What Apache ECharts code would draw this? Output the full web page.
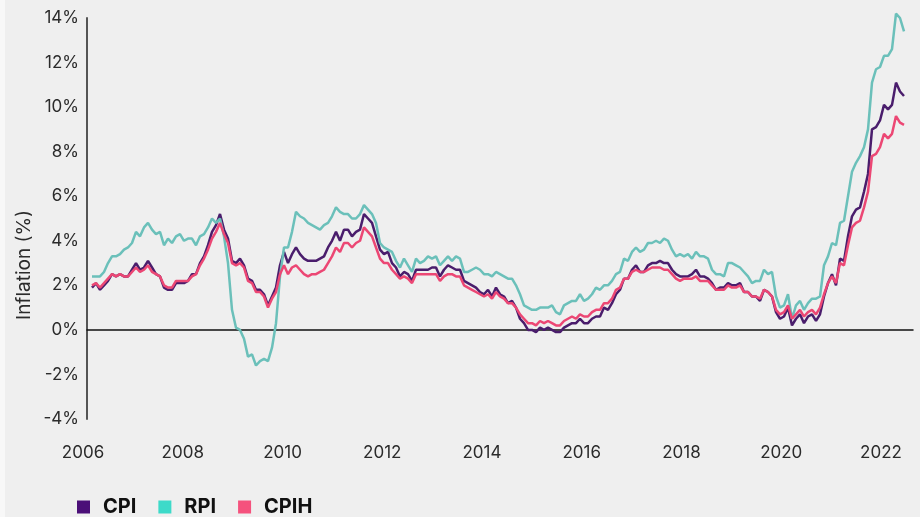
<!DOCTYPE html>
<html>
<head>
<meta charset="utf-8">
<script src="https://cdn.jsdelivr.net/npm/echarts@6/dist/echarts.min.js"></script>
<style>
  html, body { margin: 0; padding: 0; background: #f8f8f8; }
  #chart { width: 920px; height: 517px; }
</style>
</head>
<body>
<div id="chart"></div>
<script>
// monthly annual rates, Jan 2006 - Dec 2022
const cpi = [
  1.9, 2.1, 1.8, 2.0, 2.2, 2.5, 2.4, 2.5, 2.4, 2.4, 2.7, 3.0,
  2.7, 2.8, 3.1, 2.8, 2.5, 2.4, 1.9, 1.8, 1.8, 2.1, 2.1, 2.1,
  2.2, 2.5, 2.5, 3.0, 3.3, 3.8, 4.4, 4.7, 5.2, 4.5, 4.1, 3.1,
  3.0, 3.2, 2.9, 2.3, 2.2, 1.8, 1.8, 1.6, 1.1, 1.5, 1.9, 2.9,
  3.5, 3.0, 3.4, 3.7, 3.4, 3.2, 3.1, 3.1, 3.1, 3.2, 3.3, 3.7,
  4.0, 4.4, 4.0, 4.5, 4.5, 4.2, 4.4, 4.5, 5.2, 5.0, 4.8, 4.2,
  3.6, 3.4, 3.5, 3.0, 2.8, 2.4, 2.6, 2.5, 2.2, 2.7, 2.7, 2.7,
  2.7, 2.8, 2.8, 2.4, 2.7, 2.9, 2.8, 2.7, 2.7, 2.2, 2.1, 2.0,
  1.9, 1.7, 1.6, 1.8, 1.5, 1.9, 1.6, 1.5, 1.2, 1.3, 1.0, 0.5,
  0.3, 0.0, 0.0, -0.1, 0.1, 0.0, 0.1, 0.0, -0.1, -0.1, 0.1, 0.2,
  0.3, 0.3, 0.5, 0.3, 0.3, 0.5, 0.6, 0.6, 1.0, 0.9, 1.2, 1.6,
  1.8, 2.3, 2.3, 2.7, 2.9, 2.6, 2.6, 2.9, 3.0, 3.0, 3.1, 3.0,
  3.0, 2.7, 2.5, 2.4, 2.4, 2.4, 2.5, 2.7, 2.4, 2.4, 2.3, 2.1,
  1.8, 1.9, 1.9, 2.1, 2.0, 2.0, 2.1, 1.7, 1.7, 1.5, 1.5, 1.3,
  1.8, 1.7, 1.5, 0.8, 0.5, 0.6, 1.0, 0.2, 0.5, 0.7, 0.3, 0.6,
  0.7, 0.4, 0.7, 1.5, 2.1, 2.5, 2.0, 3.2, 3.1, 4.2, 5.1, 5.4,
  5.5, 6.2, 7.0, 9.0, 9.1, 9.4, 10.1, 9.9, 10.1, 11.1, 10.7, 10.5
];
const rpi = [
  2.4, 2.4, 2.4, 2.6, 3.0, 3.3, 3.3, 3.4, 3.6, 3.7, 3.9, 4.4,
  4.2, 4.6, 4.8, 4.5, 4.3, 4.4, 3.8, 4.1, 3.9, 4.2, 4.3, 4.0,
  4.1, 4.1, 3.8, 4.2, 4.3, 4.6, 5.0, 4.8, 5.0, 4.2, 3.0, 0.9,
  0.1, 0.0, -0.4, -1.2, -1.1, -1.6, -1.4, -1.3, -1.4, -0.8, 0.3, 2.4,
  3.7, 3.7, 4.4, 5.3, 5.1, 5.0, 4.8, 4.7, 4.6, 4.5, 4.7, 4.8,
  5.1, 5.5, 5.3, 5.2, 5.2, 5.0, 5.0, 5.2, 5.6, 5.4, 5.2, 4.8,
  3.9, 3.7, 3.6, 3.5, 3.1, 2.8, 3.2, 2.9, 2.6, 3.2, 3.0, 3.1,
  3.3, 3.2, 3.3, 2.9, 3.1, 3.3, 3.1, 3.3, 3.2, 2.6, 2.6, 2.7,
  2.8, 2.7, 2.5, 2.5, 2.4, 2.6, 2.5, 2.4, 2.3, 2.3, 2.0, 1.6,
  1.1, 1.0, 0.9, 0.9, 1.0, 1.0, 1.0, 1.1, 0.8, 0.7, 1.1, 1.2,
  1.3, 1.3, 1.6, 1.3, 1.4, 1.6, 1.9, 1.8, 2.0, 2.0, 2.2, 2.5,
  2.6, 3.2, 3.1, 3.5, 3.7, 3.5, 3.6, 3.9, 3.9, 4.0, 3.9, 4.1,
  4.0, 3.6, 3.3, 3.4, 3.3, 3.4, 3.2, 3.5, 3.3, 3.3, 3.2, 2.7,
  2.5, 2.5, 2.4, 3.0, 3.0, 2.9, 2.8, 2.6, 2.4, 2.1, 2.2, 2.2,
  2.7, 2.5, 2.6, 1.5, 1.0, 1.1, 1.6, 0.5, 1.1, 1.3, 0.9, 1.2,
  1.4, 1.4, 1.5, 2.9, 3.3, 3.9, 3.8, 4.8, 4.9, 6.0, 7.1, 7.5,
  7.8, 8.2, 9.0, 11.1, 11.7, 11.8, 12.3, 12.3, 12.6, 14.2, 14.0, 13.4
];
const cpih = [
  2.0, 2.1, 1.9, 2.1, 2.3, 2.5, 2.4, 2.5, 2.4, 2.4, 2.6, 2.8,
  2.6, 2.7, 2.9, 2.6, 2.5, 2.4, 2.0, 1.9, 1.9, 2.2, 2.2, 2.2,
  2.2, 2.4, 2.5, 2.9, 3.2, 3.6, 4.1, 4.4, 4.8, 4.3, 3.9, 3.0,
  2.9, 3.0, 2.8, 2.2, 2.1, 1.7, 1.7, 1.5, 1.0, 1.4, 1.7, 2.5,
  2.9, 2.5, 2.8, 2.9, 2.7, 2.5, 2.4, 2.5, 2.5, 2.6, 2.7, 3.0,
  3.3, 3.7, 3.5, 3.9, 3.9, 3.7, 3.9, 4.0, 4.6, 4.4, 4.2, 3.7,
  3.2, 3.0, 3.0, 2.7, 2.5, 2.3, 2.4, 2.3, 2.1, 2.5, 2.5, 2.5,
  2.5, 2.5, 2.5, 2.2, 2.4, 2.5, 2.5, 2.4, 2.4, 2.0, 1.9, 1.8,
  1.7, 1.6, 1.5, 1.6, 1.4, 1.7, 1.5, 1.4, 1.2, 1.2, 1.0, 0.7,
  0.5, 0.3, 0.3, 0.2, 0.4, 0.3, 0.4, 0.3, 0.2, 0.2, 0.4, 0.5,
  0.6, 0.5, 0.7, 0.6, 0.6, 0.8, 0.9, 0.9, 1.2, 1.2, 1.4, 1.8,
  1.9, 2.3, 2.3, 2.6, 2.7, 2.6, 2.6, 2.7, 2.8, 2.8, 2.8, 2.7,
  2.7, 2.5, 2.3, 2.2, 2.3, 2.3, 2.3, 2.4, 2.2, 2.2, 2.2, 2.0,
  1.8, 1.8, 1.8, 2.0, 1.9, 1.9, 2.0, 1.7, 1.7, 1.5, 1.5, 1.4,
  1.8, 1.7, 1.5, 0.9, 0.7, 0.8, 1.1, 0.5, 0.7, 0.9, 0.6, 0.8,
  0.9, 0.7, 1.0, 1.6, 2.1, 2.4, 2.1, 3.0, 2.9, 3.8, 4.6, 4.8,
  4.9, 5.5, 6.2, 7.8, 7.9, 8.2, 8.8, 8.6, 8.8, 9.6, 9.3, 9.2
];
const yearLabels = [2006, 2008, 2010, 2012, 2014, 2016, 2018, 2020, 2022];

const font = "Inter, 'Noto Sans', sans-serif";
const pairs = arr => arr.map((v, i) => [i, v]);

const chart = echarts.init(document.getElementById("chart"));

chart.setOption({
  backgroundColor: "#efefef",
  animation: false,
  graphic: [
    { type: "rect", left: 0, top: 0, shape: { width: 5, height: 517 }, style: { fill: "#f8f8f8" }, z: 0 },
    {
      type: "text", x: 24, y: 265, rotation: Math.PI / 2,
      style: {
        text: "Inflation (%)", fill: "#2b2b2b", font: "19px " + font,
        align: "center", verticalAlign: "middle"
      }
    }
  ],
  grid: [
    { left: 87, right: 7, top: 18, bottom: 98 },
    { left: 0, right: 0, top: 18, bottom: 98 }
  ],
  legend: {
    left: 77,
    top: 497,
    padding: 0,
    icon: "rect",
    itemWidth: 13,
    itemHeight: 13,
    itemGap: 22,
    textStyle: {
      fontFamily: font, fontWeight: "bold", fontSize: 20, color: "#111",
      padding: [0, 0, 0, 8]
    },
    data: ["CPI", "RPI", "CPIH"]
  },
  xAxis: [
    {
      type: "value",
      gridIndex: 0,
      min: -1.25,
      max: 205.25,
      axisLine: { onZero: true, lineStyle: { color: "#111", width: 1.5 } },
      axisTick: { show: false },
      axisLabel: { show: false },
      splitLine: { show: false }
    },
    {
      type: "value",
      gridIndex: 1,
      min: 2004.3358,
      max: 2022.782,
      axisLine: { show: false },
      axisTick: { show: false },
      splitLine: { show: false },
      axisLabel: {
        customValues: yearLabels,
        margin: 25,
        fontFamily: font,
        fontSize: 17,
        color: "#2b2b2b",
        formatter: v => String(v)
      }
    }
  ],
  yAxis: [
    {
      type: "value",
      gridIndex: 0,
      min: -4,
      max: 14,
      interval: 2,
      axisLine: { show: true, onZero: false, lineStyle: { color: "#555", width: 2 } },
      axisTick: { show: false },
      splitLine: { show: false },
      axisLabel: {
        formatter: "{value}%",
        margin: 8,
        fontFamily: font,
        fontSize: 17,
        color: "#2b2b2b"
      }
    },
    { type: "value", gridIndex: 1, show: false, min: -4, max: 14 }
  ],
  series: [
    {
      name: "CPI", type: "line", data: pairs(cpi), showSymbol: false, clip: false,
      itemStyle: { color: "#4b0f78" },
      lineStyle: { color: "#4a1d6c", width: 2.5 }
    },
    {
      name: "RPI", type: "line", data: pairs(rpi), showSymbol: false, clip: false,
      itemStyle: { color: "#3ddac9" },
      lineStyle: { color: "#6bc0ba", width: 2.5 }
    },
    {
      name: "CPIH", type: "line", data: pairs(cpih), showSymbol: false, clip: false,
      itemStyle: { color: "#f5527d" },
      lineStyle: { color: "#ec4774", width: 2.5 }
    }
  ]
});
</script>
</body>
</html>
